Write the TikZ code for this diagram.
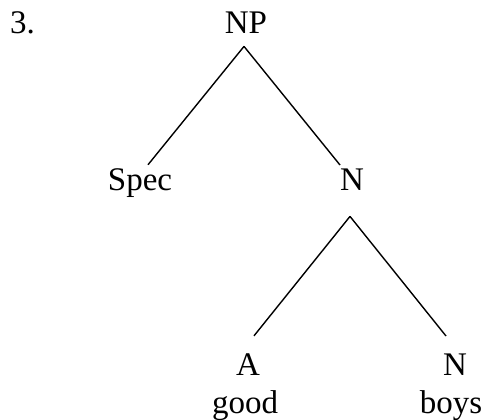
\documentclass[tikz,border=0pt]{standalone}
\usepackage{fontspec}
\setmainfont{Liberation Serif}
\usetikzlibrary{positioning}

\begin{document}
\begin{tikzpicture}[x=0.5pt, y=-0.5pt,
  every node/.style={font=\fontsize{16.5}{20}\selectfont},
  w/.style={inner sep=0pt, anchor=base},
  e/.style={line width=0.7pt}]
\useasboundingbox (0,0) rectangle (486,419);
\node[w] (num) at (22.5,33) {3.};
\node[w] (np) at (246,33)   {NP};
\node[w] (spec) at (140,190) {Spec};
\node[w] (n1) at (352,190)  {N};
\node[w] (adj) at (248,375) {A};
\node[w] (n2) at (455,375)  {N};
\node[w] (good) at (245,413) {good};
\node[w] (boys) at (451,413) {boys};
\draw[e] ([shift={(-2,13)}]np.south) -- ([shift={(8,-3)}]spec.north);
\draw[e] ([shift={(-2,13)}]np.south) -- ([shift={(-12,-3)}]n1.north);
\draw[e] ([shift={(-2,26)}]n1.south) -- ([shift={(6,-17)}]adj.north);
\draw[e] ([shift={(-2,26)}]n1.south) -- ([shift={(-9,-17)}]n2.north);
\end{tikzpicture}
\end{document}
